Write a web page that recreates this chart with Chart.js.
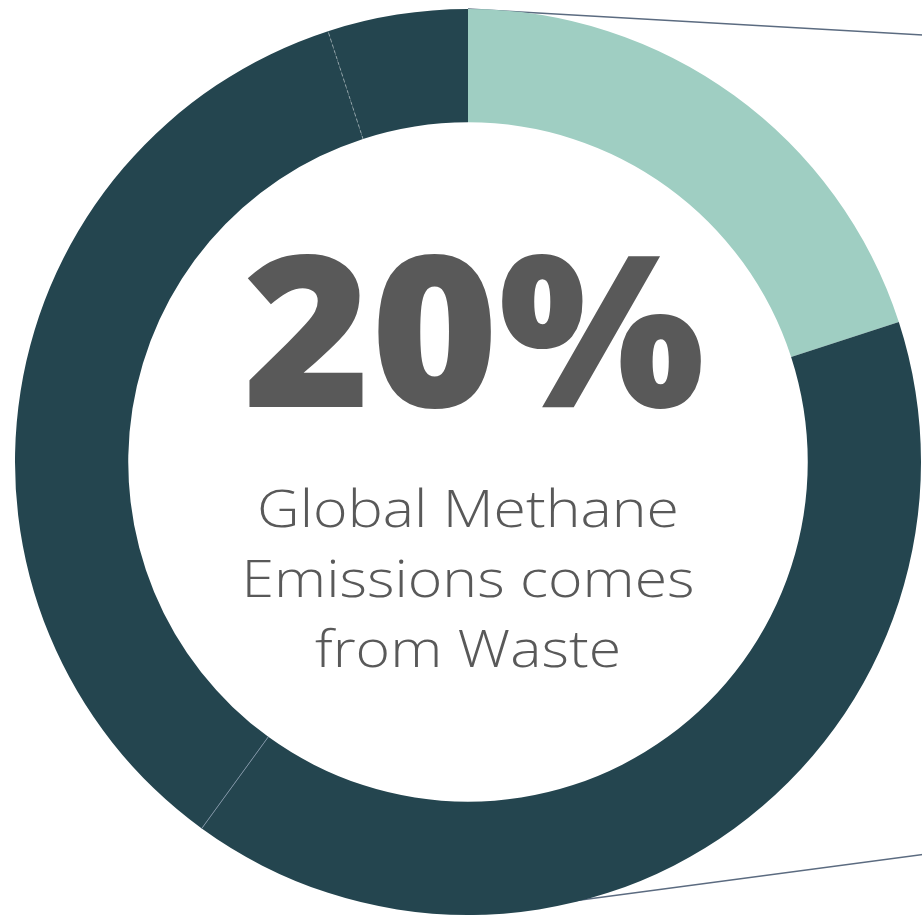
<!DOCTYPE html>
<html>
<head>
<meta charset="utf-8">
<script src="https://cdn.jsdelivr.net/npm/chart.js@4.4.1/dist/chart.umd.min.js"></script>
<style>
  html, body { margin: 0; padding: 0; background: #ffffff; overflow: hidden; }
  #wrap { position: absolute; left: 0; top: 0; width: 936px; height: 924px; }
</style>
</head>
<body>
<div id="wrap"><canvas id="donut"></canvas></div>
<script>
// methane sources, share of global emissions (%)
var sources = ["Waste", "Agriculture", "Energy", "Other"];
var shares = [20, 40, 35, 5];
var colours = ["#9fcec2", "#24454f", "#24454f", "#24454f"];

var bigLabel = "20%";
var caption = ["Global Methane", "Emissions comes", "from Waste"];

// connector lines off to the right (pie-of-pie style) + segment seams
var extras = {
  id: "extras",
  beforeDatasetsDraw: function(chart) {
    var ctx = chart.ctx;
    var arc = chart.getDatasetMeta(0).data[0];
    var cx = arc.x, cy = arc.y, r = arc.outerRadius;
    ctx.save();
    ctx.strokeStyle = "#5b6b80";
    ctx.lineWidth = 1.5;
    ctx.beginPath();
    ctx.moveTo(cx, cy - r);
    ctx.lineTo(cx + r + 20, cy - r + 27);
    ctx.moveTo(cx, cy + r);
    ctx.lineTo(cx + r + 20, cy + r - 63);
    ctx.stroke();
    ctx.restore();
  },
  afterDatasetsDraw: function(chart) {
    var ctx = chart.ctx;
    var arcs = chart.getDatasetMeta(0).data;
    ctx.save();
    [2, 3].forEach(function(i) {
      var a = arcs[i];
      var ang = a.startAngle;
      ctx.strokeStyle = i == 3 ? "rgba(160,175,180,0.8)" : "rgba(130,150,168,0.9)";
      ctx.lineWidth = 1;
      ctx.setLineDash(i == 3 ? [3, 3] : []);
      ctx.beginPath();
      ctx.moveTo(a.x + Math.cos(ang) * a.innerRadius, a.y + Math.sin(ang) * a.innerRadius);
      ctx.lineTo(a.x + Math.cos(ang) * a.outerRadius, a.y + Math.sin(ang) * a.outerRadius);
      ctx.stroke();
    });
    ctx.restore();
  },
  afterDraw: function(chart) {
    var ctx = chart.ctx;
    var arc = chart.getDatasetMeta(0).data[0];
    var cx = arc.x, cy = arc.y;
    ctx.save();
    ctx.fillStyle = "#595959";
    ctx.textAlign = "center";
    ctx.textBaseline = "alphabetic";

    // big percentage
    ctx.font = "800 212px 'Open Sans', sans-serif";
    var w = ctx.measureText(bigLabel).width;
    ctx.save();
    ctx.translate(cx + 6, cy - 55);
    ctx.scale(462 / w, 1);
    ctx.fillText(bigLabel, 0, 0);
    ctx.restore();

    // caption
    ctx.font = "300 52px 'Open Sans', sans-serif";
    var w2 = ctx.measureText(caption[1]).width;
    var sx = 453 / w2;
    caption.forEach(function(line, i) {
      ctx.save();
      ctx.translate(cx, cy + 65 + i * 70);
      ctx.scale(sx, 1);
      ctx.fillText(line, 0, 0);
      ctx.restore();
    });
    ctx.restore();
  }
};

new Chart(document.getElementById("donut"), {
  type: "doughnut",
  data: {
    labels: sources,
    datasets: [{
      data: shares,
      backgroundColor: colours,
      borderWidth: 0
    }]
  },
  options: {
    responsive: true,
    maintainAspectRatio: false,
    animation: false,
    cutout: "75%",
    layout: { padding: 9 },
    plugins: {
      legend: { display: false },
      tooltip: { enabled: false }
    }
  },
  plugins: [extras]
});
</script>
</body>
</html>
